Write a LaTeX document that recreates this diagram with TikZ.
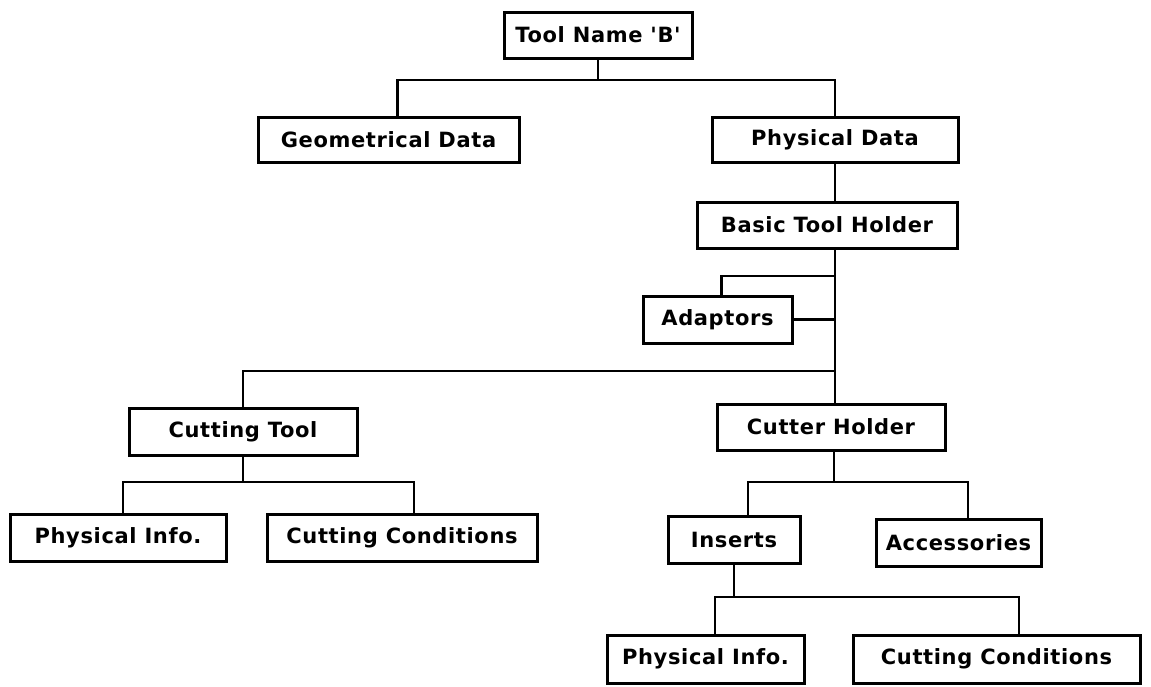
\documentclass[tikz,border=0pt]{standalone}
\usepackage{fontspec}
\setmainfont{DejaVu Sans}[Ligatures=TeXOff]
\begin{document}
\begin{tikzpicture}[x=1pt,y=-1pt,
  box/.style={draw,line width=3pt,fill=white,inner sep=0pt,font=\fontsize{21}{25}\selectfont\bfseries\addfontfeature{LetterSpace=3}},
  conn/.style={line width=2.8pt,line cap=rect}]
\useasboundingbox (0,0) rectangle (1151,686);
\fill[white] (0,0) rectangle (1151,686);
% nodes
\node[box,minimum width=188,minimum height=46] (tn) at (598,35) {Tool Name 'B'};
\node[box,minimum width=261,minimum height=45] (geo) at (388.5,139.5) {Geometrical Data};
\node[box,minimum width=246,minimum height=45] (phys) at (835,139.5) {Physical Data};
\node[box,minimum width=260,minimum height=46] (bth) at (827,225) {Basic Tool Holder};
\node[box,minimum width=149,minimum height=47] (ada) at (717.5,319.5) {Adaptors};
\node[box,minimum width=228,minimum height=47] (ct) at (243,431.5) {Cutting Tool};
\node[box,minimum width=228,minimum height=46] (ch) at (831,427) {Cutter Holder};
\node[box,minimum width=216,minimum height=47] (pil) at (118,537.5) {Physical Info.};
\node[box,minimum width=270,minimum height=47] (ccl) at (402,537.5) {Cutting Conditions};
\node[box,minimum width=132,minimum height=47] (ins) at (734,539.5) {Inserts};
\node[box,minimum width=165,minimum height=47] (acc) at (958.5,542.5) {Accessories};
\node[box,minimum width=197,minimum height=48] (pir) at (705.5,659) {Physical Info.};
\node[box,minimum width=287,minimum height=48] (ccr) at (996.5,659) {Cutting Conditions};
% junctions
\coordinate (j0) at (598,80);
\coordinate (ja) at (835,276);
\coordinate (jc) at (835,371);
\coordinate (jh) at (834,482);
\coordinate (jt) at (243,482);
\coordinate (ji) at (734,597);
% lines
\draw[conn] (tn.south) -- (j0);
\draw[conn] (j0) -| ([xshift=9]geo.north);
\draw[conn] (j0) -| (phys.north);
\draw[conn] (phys.south) -- (phys.south |- bth.north);
\draw[conn] (bth.south -| phys.south) -- (ch.north -| phys.south);
\draw[conn] (ja) -| ([xshift=4]ada.north);
\draw[conn] (ada.east) -- (ada.east -| phys.south);
\draw[conn] (jc) -| (ct.north);
\draw[conn] (ch.south -| jh) -- (jh);
\draw[conn] (jh) -| ([xshift=14]ins.north);
\draw[conn] (jh) -| ([xshift=9.5]acc.north);
\draw[conn] (ct.south) -- (jt);
\draw[conn] (jt) -| ([xshift=5]pil.north);
\draw[conn] (jt) -| ([xshift=12]ccl.north);
\draw[conn] (ins.south) -- (ji);
\draw[conn] (ji) -| ([xshift=9.5]pir.north);
\draw[conn] (ji) -| ([xshift=22.5]ccr.north);
\end{tikzpicture}
\end{document}
